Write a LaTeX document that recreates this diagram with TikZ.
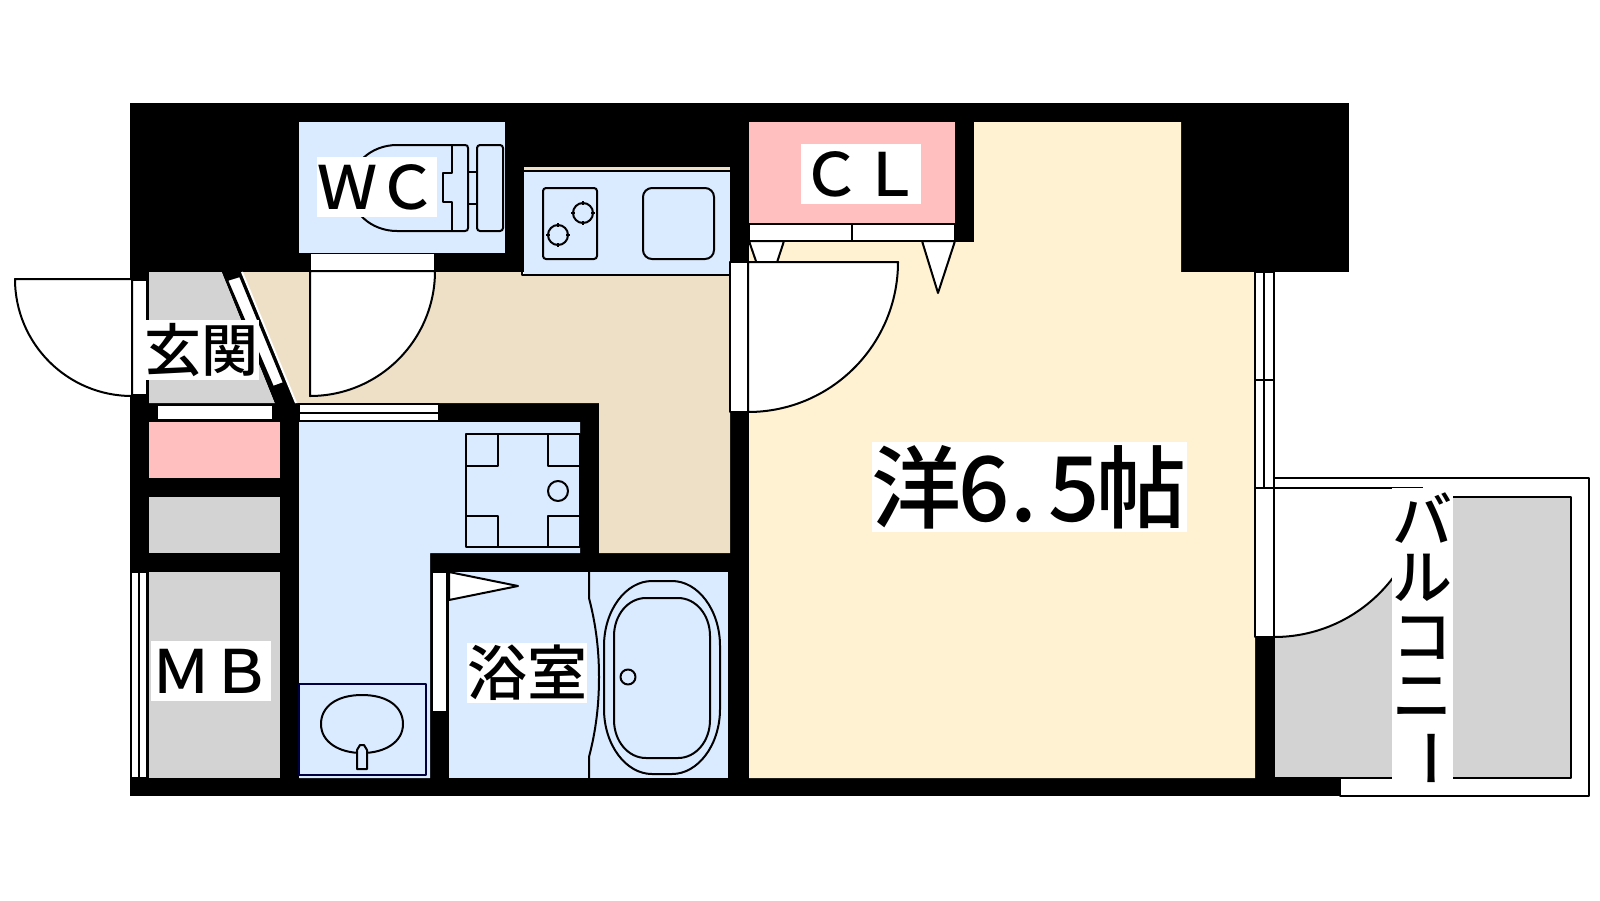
\documentclass[tikz,border=0pt]{standalone}
\usepackage{fontspec}
\setmainfont{Noto Sans CJK JP Medium}
\definecolor{wblue}{HTML}{DBEBFF}
\definecolor{wpink}{HTML}{FFBFBF}
\definecolor{wgray}{HTML}{D3D3D3}
\definecolor{wbeige}{HTML}{EEDFC7}
\definecolor{wcream}{HTML}{FFF2D3}
\tikzset{
  wall/.style={fill=black,draw=none},
  roomfill/.style={fill=#1,draw=none},
  ln/.style={draw=black,line width=1pt,line join=round},
  whitepart/.style={ln,fill=white},
  lab/.style={fill=white,inner sep=0pt,text=black,minimum height=30pt,font=\fontsize{30pt}{30pt}\selectfont},
  labw/.style={lab,minimum width=60pt},
}
\begin{document}
\begin{tikzpicture}[x=0.5pt,y=-0.5pt]
\useasboundingbox (0,0) rectangle (1600,900);
\fill[white] (0,0) rectangle (1600,900);
% balcony
\fill[white] (1274,478) rectangle (1589,796);
\draw[ln] (1275,478) -- (1589,478) -- (1589,796) -- (1340,796) -- (1340,778);
\draw[ln,fill=wgray] (1274,778) -- (1571,778) -- (1571,497) -- (1274,497) -- cycle;
\fill[white] (1274,488) -- (1423,488) arc[start angle=0,end angle=90,radius=149] -- cycle;
\fill[white] (1270,484) rectangle (1423,497);
\draw[ln] (1423,488) arc[start angle=0,end angle=90,radius=149];
\draw[ln] (1274,488) -- (1423,488);
% walls
\fill[wall] (130,103) rectangle (1349,272);
\fill[wall] (130,272) rectangle (299,796);
\fill[wall] (130,778) rectangle (1340,796);
\fill[wall] (299,403) rectangle (598,422);
\fill[wall] (580,403) rectangle (599,572);
\fill[wall] (430,553) rectangle (749,572);
\fill[wall] (430,553) rectangle (449,796);
\fill[wall] (730,272) rectangle (749,796);
\fill[wall] (728,572) rectangle (749,796);
\fill[wall] (1255,637) rectangle (1274,796);
% rooms
\fill[roomfill=wblue] (299,122) rectangle (505,253);
\fill[roomfill=wpink] (749,122) rectangle (955,223);
\fill[roomfill=wcream] (974,122) -- (1181,122) -- (1181,272) -- (1255,272) -- (1255,778) -- (749,778) -- (749,242) -- (974,242) -- cycle;
\fill[roomfill=wgray] (149,272) -- (222,272) -- (275,403) -- (149,403) -- cycle;
\fill[wall] (222,272) -- (242,272) -- (296,403) -- (275,403) -- cycle;
\fill[roomfill=wbeige] (242,272) -- (522,272) -- (522,275) -- (730,275) -- (730,553) -- (599,553) -- (599,403) -- (296,403) -- cycle;
\fill[roomfill=wpink] (149,422) rectangle (280,478);
\fill[roomfill=wgray] (149,497) rectangle (280,553);
\fill[roomfill=wgray] (149,572) rectangle (280,778);
\fill[roomfill=wblue] (299,422) -- (580,422) -- (580,553) -- (430,553) -- (430,778) -- (299,778) -- cycle;
\fill[roomfill=wblue] (449,572) rectangle (728,778);
% kitchen
\fill[wbeige] (524,167) rectangle (730,171);
\fill[roomfill=wblue] (524,171) rectangle (730,275);
\draw[ln] (524,171) -- (730,171);
\draw[ln] (522,272) -- (522,275) -- (730,275);
\draw[ln,rounded corners=1.5pt] (543,188) rectangle (597,259);
\draw[ln,rounded corners=4.5pt] (643,188) rectangle (714,259);
\draw[ln] (583,213) circle[radius=10];
\draw[ln] (558,235) circle[radius=10];
\draw[ln] (583,201)--(583,205) (583,221)--(583,225) (571,213)--(575,213) (591,213)--(595,213);
\draw[ln] (558,223)--(558,227) (558,243)--(558,247) (546,235)--(550,235) (566,235)--(570,235);
% toilet
\draw[ln] (350,188) .. controls (350,164) and (371,145) .. (397,145) -- (465,145) .. controls (467,145) and (468,146) .. (468,148) -- (468,228) .. controls (468,230) and (467,231) .. (465,231) -- (397,231) .. controls (371,231) and (350,212) .. (350,188);
\draw[ln] (452,145) -- (452,173) -- (443,173) -- (443,202) -- (452,202) -- (452,231);
\draw[ln] (468,172) rectangle (477,204);
\draw[ln,rounded corners=1.5pt] (477,145) rectangle (503,231);
% CL doors
\draw[whitepart] (749,241) -- (767,293) -- (784,241) -- cycle;
\draw[whitepart] (922,241) -- (938,293) -- (955,241) -- cycle;
\draw[whitepart] (749,224) rectangle (955,241);
\draw[ln] (852,224) -- (852,241);
% room door
\draw[whitepart] (730,262) rectangle (748,412);
\draw[whitepart] (748,262) -- (898,262) arc[start angle=0,end angle=90,radius=150] -- cycle;
% WC door
\fill[white] (310,254) rectangle (435,271);
\draw[ln] (310,254) -- (310,271) -- (435,271) -- (435,254);
\draw[whitepart] (310,271) -- (435,271) arc[start angle=0,end angle=90,radius=125] -- cycle;
% front door
\draw[whitepart] (132,280) rectangle (147,395);
\draw[whitepart] (132,279) -- (15,279) arc[start angle=180,end angle=90,radius=117] -- cycle;
% entry diagonal door
\draw[white,line width=1pt] (242,272) -- (296,403);
\draw[whitepart] (227,280) -- (240,276) -- (284,383) -- (273,387) -- cycle;
% windows
\draw[whitepart] (157,405) rectangle (273,420);
\draw[whitepart] (299,404) rectangle (439,421);
\draw[ln] (299,412.5) -- (439,412.5);
\draw[whitepart] (131,572) rectangle (147,778);
\draw[ln] (139,572) -- (139,778);
\draw[whitepart] (1255,272) rectangle (1274,488);
\draw[ln] (1264,272) -- (1264,488);
\draw[ln] (1255,380) -- (1274,380);
\draw[whitepart] (1255,488) rectangle (1274,637);
% washer pan
\draw[ln] (466,434) rectangle (580,547);
\draw[ln] (466,466) -- (498,466) -- (498,434);
\draw[ln] (548,434) -- (548,466) -- (580,466);
\draw[ln] (466,516) -- (498,516) -- (498,547);
\draw[ln] (548,547) -- (548,516) -- (580,516);
\draw[ln] (558,491) circle[radius=10];
% washbasin
\draw[ln,draw=black!75!blue] (299,684) rectangle (426,775);
\draw[ln] (362,695) .. controls (388,695) and (403,707) .. (403,724) .. controls (403,742) and (385,753) .. (362,753) .. controls (339,753) and (321,742) .. (321,724) .. controls (321,707) and (336,695) .. (362,695);
\draw[ln,fill=wblue] (357,769) -- (357,750) -- (360,745) -- (364,745) -- (367,750) -- (367,769) -- cycle;
% bath
\draw[whitepart] (432,572) rectangle (447,712);
\draw[whitepart] (449,572) -- (518,586) -- (449,600) -- cycle;
\draw[ln] (589,572) -- (589,598) .. controls (596,625) and (599,650) .. (599,677) .. controls (599,705) and (596,730) .. (589,757) -- (589,778);
\draw[ln] (604,646) .. controls (604,610) and (626,581) .. (652,581) -- (672,581) .. controls (698,581) and (720,610) .. (720,646) -- (720,709) .. controls (720,745) and (698,774) .. (672,774) -- (652,774) .. controls (626,774) and (604,745) .. (604,709) -- cycle;
\draw[ln] (614,636) .. controls (614,615) and (628,598) .. (646,598) -- (678,598) .. controls (696,598) and (710,615) .. (710,636) -- (710,720) .. controls (710,741) and (696,758) .. (678,758) -- (646,758) .. controls (628,758) and (614,741) .. (614,720) -- cycle;
\draw[ln] (628,677) circle[radius=7.5];
% labels
\node[labw] (wc) at (377,187) {ＷＣ};
\node[labw] (cl) at (861,174) {ＣＬ};
\node[lab,minimum width=57.5pt,font=\fontsize{28.5pt}{30pt}\selectfont] (genkan) at (201.5,350) {玄関};
\node[labw] (mb) at (211,671) {ＭＢ};
\node[labw] (yoku) at (527,673) {浴室};
\node[fill=white,inner sep=0pt,minimum height=45pt,minimum width=157.5pt,font=\fontsize{45pt}{45pt}\selectfont] (yo) at (1029,487)
  {\makebox[45pt]{洋}\makebox[22.5pt]{6}\makebox[22.5pt][l]{\hspace{2pt}.}\makebox[22.5pt]{5}\makebox[45pt]{帖}};
\fill[white] (1392,488) rectangle (1453,790);
\node[labw,minimum width=30pt,fill=none] (b1) at (1422,518) {バ};
\node[labw,minimum width=30pt,fill=none] (b2) at (1422,578) {ル};
\node[labw,minimum width=30pt,fill=none] (b3) at (1422,638) {コ};
\node[labw,minimum width=30pt,fill=none] (b4) at (1422,698) {ニ};
\node[labw,minimum width=30pt,fill=none] (b5) at (1422,758) {\rotatebox{-90}{ー}};
\draw[ln] (1340,796) -- (1589,796);
\end{tikzpicture}
\end{document}
